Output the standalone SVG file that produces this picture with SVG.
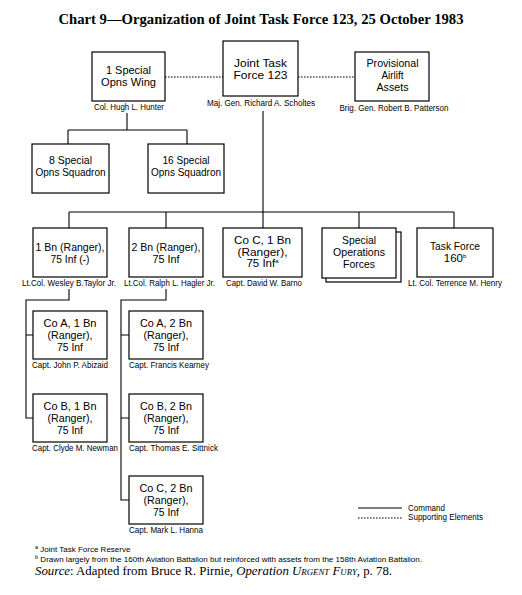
<svg xmlns="http://www.w3.org/2000/svg" width="522" height="595" viewBox="0 0 522 595">
<style>
.bx{fill:#fff;stroke:#000;stroke-width:1.2}
.t{font-family:"Liberation Sans",Arial,sans-serif;font-size:11.5px;text-anchor:middle;fill:#000}
.l{font-family:"Liberation Sans",Arial,sans-serif;font-size:8.5px;text-anchor:middle;fill:#000}
.ls{font-family:"Liberation Sans",Arial,sans-serif;font-size:8.5px;fill:#000}
.fn{font-family:"Liberation Sans",Arial,sans-serif;font-size:8px;fill:#000}
.ser{font-family:"Liberation Serif","Times New Roman",serif;fill:#000}
.c{fill:none;stroke:#000;stroke-width:1.1}
.d{fill:none;stroke:#000;stroke-width:1.1;stroke-dasharray:1.6 1.4}
.sup{font-size:6px}
</style>
<rect width="522" height="595" fill="#fff"/>
<text class="ser" x="261" y="24" text-anchor="middle" font-size="15.5" font-weight="bold" textLength="405" lengthAdjust="spacingAndGlyphs">Chart 9—Organization of Joint Task Force 123, 25 October 1983</text>

<g id="connectors">
<path class="d" d="M165,77 H223 M298,77 H355"/>
<path class="c" d="M127,113 V130 M68,130 H187 M68,130 V144 M187,130 V144"/>
<path class="c" d="M263,111 V212 M69,212 H454 M69,212 V228 M166,212 V228 M263,212 V228 M359,212 V228 M454,212 V228"/>
<path class="c" d="M69,289 V300 H26 V418 H33 M26,335 H33"/>
<path class="c" d="M166,289 V300 H121 V500 H129 M121,335 H129 M121,418 H129"/>
</g>

<g id="sow">
<rect class="bx" x="92" y="52" width="73" height="49"/>
<text class="t" x="128.5" y="74" textLength="45" lengthAdjust="spacingAndGlyphs">1 Special</text>
<text class="t" x="128.5" y="86" textLength="55" lengthAdjust="spacingAndGlyphs">Opns Wing</text>
<text class="l" x="129" y="110" textLength="70" lengthAdjust="spacingAndGlyphs">Col. Hugh L. Hunter</text>
</g>
<g id="jtf">
<rect class="bx" x="223" y="41" width="75" height="55"/>
<text class="t" x="260.5" y="67" textLength="53" lengthAdjust="spacingAndGlyphs">Joint Task</text>
<text class="t" x="260.5" y="79" textLength="54" lengthAdjust="spacingAndGlyphs">Force 123</text>
<text class="l" x="261" y="106" textLength="108" lengthAdjust="spacingAndGlyphs">Maj. Gen. Richard A. Scholtes</text>
</g>
<g id="airlift">
<rect class="bx" x="355" y="52" width="74" height="49"/>
<text class="t" x="392.5" y="67" textLength="52" lengthAdjust="spacingAndGlyphs">Provisional</text>
<text class="t" x="392.5" y="79" textLength="22" lengthAdjust="spacingAndGlyphs">Airlift</text>
<text class="t" x="392.5" y="91" textLength="32" lengthAdjust="spacingAndGlyphs">Assets</text>
<text class="l" x="394" y="111" textLength="109" lengthAdjust="spacingAndGlyphs">Brig. Gen. Robert B. Patterson</text>
</g>
<g id="sq8">
<rect class="bx" x="32" y="144" width="77" height="49"/>
<text class="t" x="70.5" y="164" textLength="43" lengthAdjust="spacingAndGlyphs">8 Special</text>
<text class="t" x="70.5" y="176" textLength="70" lengthAdjust="spacingAndGlyphs">Opns Squadron</text>
</g>
<g id="sq16">
<rect class="bx" x="148" y="144" width="76" height="49"/>
<text class="t" x="186" y="164" textLength="47" lengthAdjust="spacingAndGlyphs">16 Special</text>
<text class="t" x="186" y="176" textLength="70" lengthAdjust="spacingAndGlyphs">Opns Squadron</text>
</g>
<g id="bn1">
<rect class="bx" x="33" y="228" width="74" height="49"/>
<text class="t" x="70" y="251" textLength="69" lengthAdjust="spacingAndGlyphs">1 Bn (Ranger),</text>
<text class="t" x="70" y="263" textLength="39" lengthAdjust="spacingAndGlyphs">75 Inf (-)</text>
<text class="l" x="69" y="286" textLength="94" lengthAdjust="spacingAndGlyphs">Lt.Col. Wesley B.Taylor Jr.</text>
</g>
<g id="bn2">
<rect class="bx" x="129" y="228" width="74" height="49"/>
<text class="t" x="166" y="251" textLength="69" lengthAdjust="spacingAndGlyphs">2 Bn (Ranger),</text>
<text class="t" x="166" y="263" textLength="27" lengthAdjust="spacingAndGlyphs">75 Inf</text>
<text class="l" x="169.5" y="286" textLength="91" lengthAdjust="spacingAndGlyphs">Lt.Col. Ralph L. Hagler Jr.</text>
</g>
<g id="coc1">
<rect class="bx" x="223" y="228" width="79" height="49"/>
<text class="t" x="262.5" y="244" textLength="57" lengthAdjust="spacingAndGlyphs">Co C, 1 Bn</text>
<text class="t" x="262.5" y="256" textLength="50" lengthAdjust="spacingAndGlyphs">(Ranger),</text>
<text class="t" x="262.5" y="267">75 Inf<tspan class="sup" dy="-4">a</tspan></text>
<text class="l" x="264" y="286" textLength="76" lengthAdjust="spacingAndGlyphs">Capt. David W. Barno</text>
</g>
<g id="sof">
<rect class="bx" x="326" y="232" width="75" height="50"/>
<rect class="bx" x="322" y="228" width="74" height="50"/>
<text class="t" x="359" y="244" textLength="34" lengthAdjust="spacingAndGlyphs">Special</text>
<text class="t" x="359" y="256" textLength="52" lengthAdjust="spacingAndGlyphs">Operations</text>
<text class="t" x="359" y="268" textLength="32" lengthAdjust="spacingAndGlyphs">Forces</text>
</g>
<g id="tf160">
<rect class="bx" x="417" y="228" width="76" height="49"/>
<text class="t" x="455" y="250" textLength="50" lengthAdjust="spacingAndGlyphs">Task Force</text>
<text class="t" x="455" y="262">160<tspan class="sup" dy="-4">b</tspan></text>
<text class="l" x="455" y="286" textLength="94" lengthAdjust="spacingAndGlyphs">Lt. Col. Terrence M. Henry</text>
</g>
<g id="coa1">
<rect class="bx" x="33" y="311" width="74" height="48"/>
<text class="t" x="70" y="327" textLength="53" lengthAdjust="spacingAndGlyphs">Co A, 1 Bn</text>
<text class="t" x="70" y="339" textLength="45" lengthAdjust="spacingAndGlyphs">(Ranger),</text>
<text class="t" x="70" y="351" textLength="26" lengthAdjust="spacingAndGlyphs">75 Inf</text>
<text class="ls" x="32" y="368" textLength="76" lengthAdjust="spacingAndGlyphs">Capt. John P. Abizaid</text>
</g>
<g id="cob1">
<rect class="bx" x="33" y="394" width="74" height="48"/>
<text class="t" x="70" y="410" textLength="53" lengthAdjust="spacingAndGlyphs">Co B, 1 Bn</text>
<text class="t" x="70" y="422" textLength="45" lengthAdjust="spacingAndGlyphs">(Ranger),</text>
<text class="t" x="70" y="434" textLength="26" lengthAdjust="spacingAndGlyphs">75 Inf</text>
<text class="ls" x="32" y="451" textLength="86" lengthAdjust="spacingAndGlyphs">Capt. Clyde M. Newman</text>
</g>
<g id="coa2">
<rect class="bx" x="129" y="311" width="74" height="48"/>
<text class="t" x="166" y="327" textLength="52" lengthAdjust="spacingAndGlyphs">Co A, 2 Bn</text>
<text class="t" x="166" y="339" textLength="45" lengthAdjust="spacingAndGlyphs">(Ranger),</text>
<text class="t" x="166" y="351" textLength="26" lengthAdjust="spacingAndGlyphs">75 Inf</text>
<text class="ls" x="129" y="368" textLength="80" lengthAdjust="spacingAndGlyphs">Capt. Francis Kearney</text>
</g>
<g id="cob2">
<rect class="bx" x="129" y="394" width="74" height="48"/>
<text class="t" x="166" y="410" textLength="52" lengthAdjust="spacingAndGlyphs">Co B, 2 Bn</text>
<text class="t" x="166" y="422" textLength="45" lengthAdjust="spacingAndGlyphs">(Ranger),</text>
<text class="t" x="166" y="434" textLength="26" lengthAdjust="spacingAndGlyphs">75 Inf</text>
<text class="ls" x="129" y="451" textLength="89" lengthAdjust="spacingAndGlyphs">Capt. Thomas E. Sittnick</text>
</g>
<g id="coc2">
<rect class="bx" x="129" y="476" width="74" height="48"/>
<text class="t" x="166" y="492" textLength="53" lengthAdjust="spacingAndGlyphs">Co C, 2 Bn</text>
<text class="t" x="166" y="504" textLength="45" lengthAdjust="spacingAndGlyphs">(Ranger),</text>
<text class="t" x="166" y="516" textLength="26" lengthAdjust="spacingAndGlyphs">75 Inf</text>
<text class="ls" x="129" y="533" textLength="74" lengthAdjust="spacingAndGlyphs">Capt. Mark L. Hanna</text>
</g>

<g id="legend">
<path class="c" d="M358,508 H402"/>
<path class="d" d="M358,518 H402"/>
<text class="ls" x="408" y="511" textLength="37" lengthAdjust="spacingAndGlyphs">Command</text>
<text class="ls" x="408" y="520" textLength="75" lengthAdjust="spacingAndGlyphs">Supporting Elements</text>
</g>

<g id="notes">
<text class="fn" x="35" y="552"><tspan font-size="5.5" dy="-3">a</tspan><tspan dy="3"> Joint Task Force Reserve</tspan></text>
<text class="fn" x="35" y="562" textLength="387" lengthAdjust="spacingAndGlyphs"><tspan font-size="5.5" dy="-3">b</tspan><tspan dy="3"> Drawn largely from the 160th Aviation Battalion but reinforced with assets from the 158th Aviation Battalion.</tspan></text>
<text class="ser" x="35" y="575" font-size="13" textLength="357" lengthAdjust="spacingAndGlyphs"><tspan font-style="italic">Source</tspan>: Adapted from Bruce R. Pirnie, <tspan font-style="italic">Operation <tspan font-variant="small-caps">Urgent Fury</tspan></tspan>, p. 78.</text>
</g>
</svg>
